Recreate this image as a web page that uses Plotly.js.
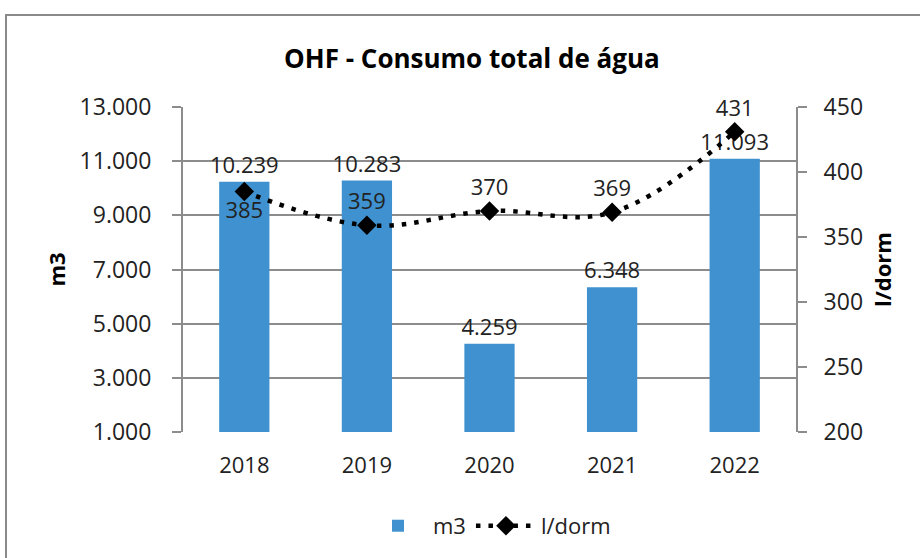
<!DOCTYPE html>
<html>
<head>
<meta charset="utf-8">
<script src="https://cdn.plot.ly/plotly-3.0.1.min.js"></script>
<style>
  html, body { margin: 0; padding: 0; background: #fff; }
  #wrap { position: relative; width: 920px; height: 558px; overflow: hidden; }
  #chart { position: absolute; left: 0; top: 0; width: 920px; height: 558px; }
  #frame { position: absolute; left: 5px; top: 14px; width: 940px; height: 600px;
           border-left: 2px solid #8a8a8a; border-top: 2px solid #8a8a8a; pointer-events: none; }
</style>
</head>
<body>
<div id="wrap">
  <div id="chart"></div>
  <div id="frame"></div>
</div>
<script>
const years = ['2018', '2019', '2020', '2021', '2022'];
const m3Values = [10239, 10283, 4259, 6348, 11093];
const lDormValues = [385, 359, 370, 369, 431];
const lDormLabelPos = ['bottom center', 'top center', 'top center', 'top center', 'top center'];

const FONT = 'Open Sans, Noto Sans, sans-serif';
const GREY = '#8c8c8c';

const traces = [
  {
    type: 'bar',
    name: 'm3',
    x: years,
    y: m3Values,
    marker: { color: '#3f92cf' },
    width: 0.41,
    text: m3Values.map(v => v.toLocaleString('de-DE')),
    textposition: 'outside',
    constraintext: 'none',
    cliponaxis: false,
    textfont: { family: FONT, size: 22, color: '#222' },
    hoverinfo: 'none'
  },
  {
    type: 'scatter',
    mode: 'lines+markers+text',
    name: 'l/dorm',
    x: years,
    y: lDormValues,
    yaxis: 'y2',
    line: { color: '#000', width: 4.5, dash: '4.5px,8px', shape: 'spline', smoothing: 1.1 },
    marker: { symbol: 'diamond', size: 15, color: '#000' },
    text: lDormValues.map(String),
    textposition: lDormLabelPos,
    textfont: { family: FONT, size: 22, color: '#222' },
    cliponaxis: false,
    hoverinfo: 'none'
  }
];

const layout = {
  width: 920,
  height: 558,
  paper_bgcolor: '#fff',
  plot_bgcolor: '#fff',
  separators: ',.',
  font: { family: FONT, size: 22, color: '#222' },
  margin: { l: 183, r: 124, t: 107, b: 125 },
  showlegend: true,
  title: {
    text: '<b>OHF - Consumo total de água</b>',
    font: { family: FONT, size: 26, color: '#000' },
    x: 0.513, xanchor: 'center',
    y: 0.895, yanchor: 'middle', yref: 'container'
  },
  xaxis: {
    type: 'category',
    showgrid: false,
    showline: false,
    zeroline: false,
    ticks: '',
    ticklabelstandoff: 18,
    tickfont: { family: FONT, size: 22, color: '#222' }
  },
  yaxis: {
    range: [1000, 13000],
    dtick: 2000,
    tick0: 1000,
    tickformat: ',d',
    showgrid: true,
    gridcolor: GREY,
    gridwidth: 2,
    zeroline: false,
    showline: true,
    linecolor: GREY,
    linewidth: 2,
    ticks: 'outside',
    ticklen: 9,
    tickwidth: 2,
    tickcolor: GREY,
    ticklabelstandoff: 16,
    tickfont: { family: FONT, size: 23, color: '#222' },
    title: { text: '<b>m3</b>', font: { family: FONT, size: 22, color: '#000' }, standoff: 8 },
    automargin: false
  },
  yaxis2: {
    overlaying: 'y',
    side: 'right',
    range: [200, 450],
    dtick: 50,
    showgrid: false,
    zeroline: false,
    showline: true,
    linecolor: GREY,
    linewidth: 2,
    ticks: 'outside',
    ticklen: 9,
    tickwidth: 2,
    tickcolor: GREY,
    ticklabelstandoff: 12,
    tickfont: { family: FONT, size: 23, color: '#222' },
    title: { text: '<b>l/dorm</b>', font: { family: FONT, size: 22, color: '#000' }, standoff: 14 },
    automargin: false
  },
  legend: {
    orientation: 'h',
    x: 0.5, xanchor: 'center',
    y: -0.285, yanchor: 'middle',
    font: { family: FONT, size: 22, color: '#222' },
    itemwidth: 60,
    traceorder: 'normal'
  }
};

Plotly.newPlot('chart', traces, layout, { staticPlot: true, displayModeBar: false });
</script>
</body>
</html>
